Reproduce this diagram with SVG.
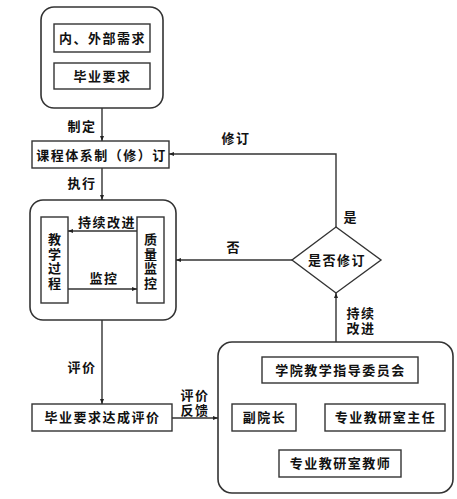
<svg xmlns="http://www.w3.org/2000/svg" width="457" height="499" viewBox="0 0 457 499">
<defs>
<style>
text{font-family:"Noto Sans CJK SC","Noto Sans",sans-serif;font-size:13px;fill:#111;font-weight:bold;text-anchor:middle}
.t{letter-spacing:1.5px}
.v{writing-mode:vertical-rl;letter-spacing:1.7px}
.box{fill:#fff;stroke:#333;stroke-width:1.4}
.outer{fill:#fff;stroke:#333;stroke-width:1.6}
.ln{fill:none;stroke:#333;stroke-width:1.4}
</style>
<marker id="ah" viewBox="0 0 10 10" refX="10" refY="5" markerWidth="5" markerHeight="5" orient="auto" markerUnits="userSpaceOnUse">
<path d="M0,1 L10,5 L0,9 z" fill="#222"/>
</marker>
</defs>
<rect width="457" height="499" fill="#fff"/>

<g id="source">
<rect class="outer" x="41" y="7" width="122" height="101" rx="13"/>
<rect class="box" x="54" y="24" width="96" height="28"/>
<text class="t" x="102.5" y="43">内、外部需求</text>
<rect class="box" x="54" y="63" width="96" height="26"/>
<text class="t" x="102.5" y="81">毕业要求</text>
</g>

<g id="curriculum">
<rect class="box" x="32" y="141" width="137" height="27"/>
<text class="t" x="101.5" y="160">课程体系制（修）订</text>
</g>

<g id="teaching">
<rect class="outer" x="30" y="200" width="146" height="120" rx="13"/>
<rect class="box" x="41" y="217" width="27" height="86"/>
<text class="v" x="54.5" y="262">教学过程</text>
<rect class="box" x="137" y="217" width="27" height="86"/>
<text class="v" x="150.5" y="262">质量监控</text>
</g>

<g id="decision">
<polygon class="box" points="336,227 381,260 336,293 292,260"/>
<text class="t" x="337" y="265">是否修订</text>
</g>

<g id="evaluation">
<rect class="box" x="32" y="404" width="140" height="27"/>
<text class="t" x="102.5" y="422">毕业要求达成评价</text>
</g>

<g id="committee">
<rect class="outer" x="218" y="342" width="235" height="151" rx="14"/>
<rect class="box" x="262" y="357" width="156" height="26"/>
<text class="t" x="340.5" y="375">学院教学指导委员会</text>
<rect class="box" x="232" y="404" width="64" height="27"/>
<text class="t" x="264.5" y="422">副院长</text>
<rect class="box" x="325" y="404" width="120" height="27"/>
<text class="t" x="385.5" y="422">专业教研室主任</text>
<rect class="box" x="279" y="450" width="122" height="27"/>
<text class="t" x="340.5" y="468">专业教研室教师</text>
</g>

<g id="connectors">
<line class="ln" x1="102" y1="108" x2="102" y2="141" marker-end="url(#ah)"/>
<line class="ln" x1="102" y1="168" x2="102" y2="200" marker-end="url(#ah)"/>
<line class="ln" x1="137" y1="231" x2="68" y2="231" marker-end="url(#ah)"/>
<line class="ln" x1="68" y1="289" x2="137" y2="289" marker-end="url(#ah)"/>
<line class="ln" x1="102" y1="320" x2="102" y2="404" marker-end="url(#ah)"/>
<line class="ln" x1="172" y1="418" x2="218" y2="418" marker-end="url(#ah)"/>
<line class="ln" x1="336" y1="342" x2="336" y2="293" marker-end="url(#ah)"/>
<line class="ln" x1="292" y1="260" x2="176" y2="260" marker-end="url(#ah)"/>
<polyline class="ln" points="336,227 336,154 169,154" marker-end="url(#ah)"/>
</g>

<g id="labels">
<text class="t" x="82" y="131">制定</text>
<text class="t" x="82" y="188">执行</text>
<text class="t" x="236" y="143">修订</text>
<text x="350" y="222">是</text>
<text x="233" y="252">否</text>
<text class="t" x="107" y="227">持续改进</text>
<text class="t" x="104" y="283">监控</text>
<text class="t" x="82" y="372">评价</text>
<text class="t" x="195" y="400">评价<tspan x="195" dy="15">反馈</tspan></text>
<text class="t" x="361" y="318">持续<tspan x="361" dy="15">改进</tspan></text>
</g>
</svg>
